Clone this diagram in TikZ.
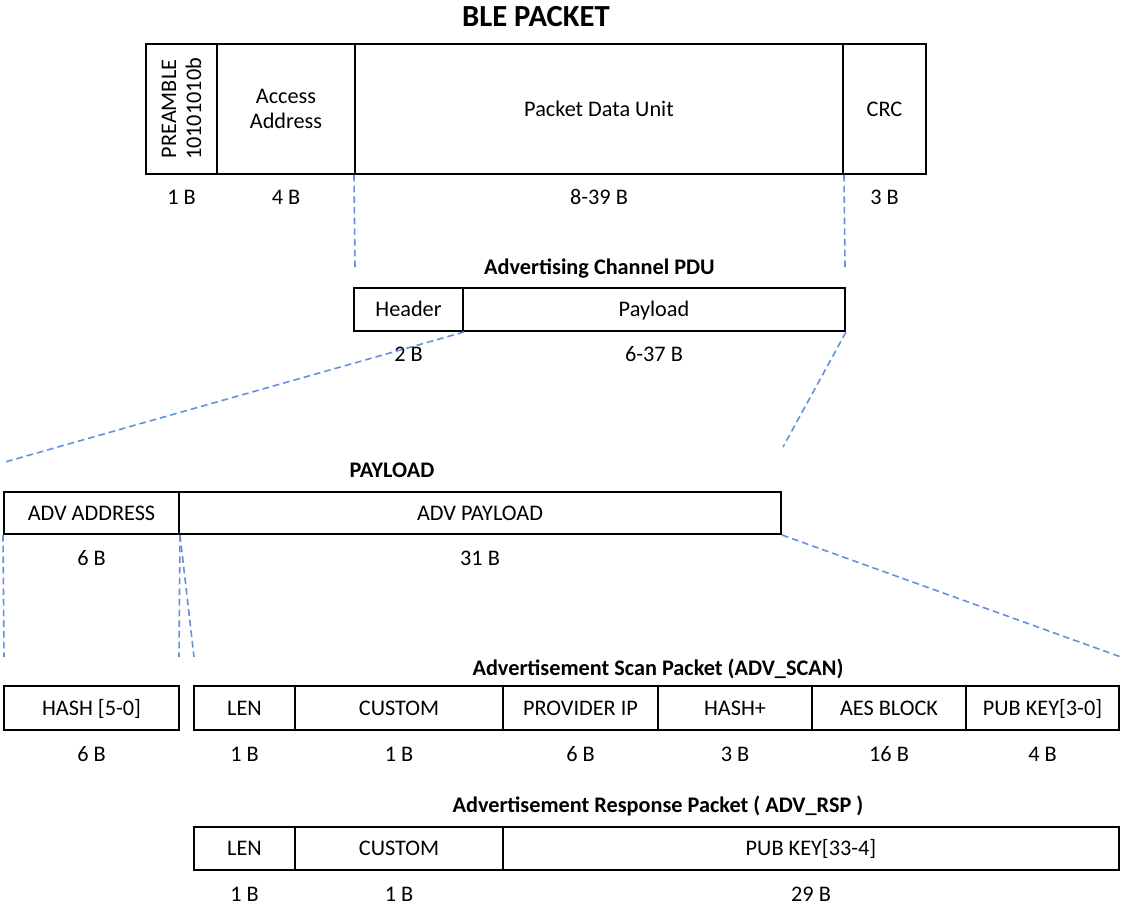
\documentclass[tikz,border=0pt]{standalone}
\usepackage{fontspec}
\setmainfont{Carlito}

\definecolor{zoomblue}{RGB}{100,145,220}
\newcommand\pktfont{\fontsize{16.7}{18.75}\selectfont}

\begin{document}
\begin{tikzpicture}[x=0.75pt, y=-0.75pt,
  every node/.style={font=\pktfont},
  cell/.style={draw, line width=1.5pt, inner sep=0pt, text height=10.8pt, text depth=0pt},
  bytes/.style={anchor=base},
  ttl/.style={anchor=base, font=\pktfont\bfseries},
  zoomline/.style={draw=zoomblue, line width=1.2pt, dash pattern=on 5pt off 3pt}]
 \useasboundingbox[fill=white] (0,0) rectangle (1121,905);

 %% BLE packet
 \node[anchor=base, font=\fontsize{23}{26}\selectfont\bfseries] (ble) at (536,27) {BLE PACKET};
 \node[cell, rotate=90, align=center, text height=29.5pt, minimum width=97.5pt, minimum height=53.25pt] (pre) at (181.5,109) {PREAMBLE\\10101010b};
 \node[cell, align=center, text height=29.5pt, minimum width=103.5pt, minimum height=97.5pt] (acc) at (286,109) {Access\\Address};
 \node[bytes] at ([yshift=-22.5pt]pre.west) {1 B};
 \node[bytes] at ([yshift=-22.5pt]acc.south) {4 B};
 \foreach \nm/\l/\r/\txt/\b in {pdu/355/843/Packet Data Unit/8-39 B, crc/843/926/CRC/3 B}{
   \pgfmathsetmacro\w{(\r-\l)*0.75}
   \node[cell, minimum width=\w pt, minimum height=97.5pt] (\nm) at ({(\l+\r)/2},109) {\txt};
   \node[bytes] at ([yshift=-22.5pt]\nm.south) {\b};
 }

 %% advertising channel PDU
 \node[ttl] (pdutitle) at (599.5,275) {Advertising Channel PDU};
 \foreach \nm/\l/\r/\txt/\b in {hdr/354/463/Header/2 B, pay/463/845/Payload/6-37 B}{
   \pgfmathsetmacro\w{(\r-\l)*0.75}
   \node[cell, minimum width=\w pt, minimum height=32.25pt] (\nm) at ({(\l+\r)/2},309.5) {\txt};
   \node[bytes] at ([yshift=-22.5pt]\nm.south) {\b};
 }

 %% payload
 \node[ttl] (paytitle) at (392,477) {PAYLOAD};
 \foreach \nm/\l/\r/\txt/\b in {adr/4/179/ADV ADDRESS/6 B, apl/179/781/ADV PAYLOAD/31 B}{
   \pgfmathsetmacro\w{(\r-\l)*0.75}
   \node[cell, minimum width=\w pt, minimum height=31.5pt] (\nm) at ({(\l+\r)/2},513) {\txt};
   \node[bytes] at ([yshift=-22.5pt]\nm.south) {\b};
 }

 %% scan packet
 \node[ttl] (scantitle) at (658,675) {Advertisement Scan Packet (ADV\_SCAN)};
 \foreach \nm/\l/\r/\txt/\b in {hash/4/179/{HASH [5-0]}/6 B, slen/194/295/LEN/1 B, scus/295/503/CUSTOM/1 B,
     sip/503/658/PROVIDER IP/6 B, shsh/658/812/HASH+/3 B, saes/812/966/AES BLOCK/16 B, spub/966/1119/{PUB KEY[3-0]}/4 B}{
   \pgfmathsetmacro\w{(\r-\l)*0.75}
   \node[cell, minimum width=\w pt, minimum height=33pt] (\nm) at ({(\l+\r)/2},708) {\txt};
   \node[bytes] at ([yshift=-22.5pt]\nm.south) {\b};
 }

 %% response packet
 \node[ttl] (rsptitle) at (658,812) {Advertisement Response Packet ( ADV\_RSP )};
 \foreach \nm/\l/\r/\txt/\b in {rlen/194/295/LEN/1 B, rcus/295/503/CUSTOM/1 B, rpub/503/1119/{PUB KEY[33-4]}/29 B}{
   \pgfmathsetmacro\w{(\r-\l)*0.75}
   \node[cell, minimum width=\w pt, minimum height=32.25pt] (\nm) at ({(\l+\r)/2},848.5) {\txt};
   \node[bytes] at ([yshift=-22.5pt]\nm.south) {\b};
 }

 %% zoom lines
 \coordinate (z1) at (355,268);
 \coordinate (z2) at (845,268);
 \coordinate (z3) at (5,462);
 \coordinate (z4) at (783,447);
 \coordinate (z5) at (4,657);
 \coordinate (z6) at (179,657);
 \coordinate (z7) at (194,657);
 \coordinate (z8) at (1121,657);
 \path[zoomline] (pdu.south west) -- (z1);
 \path[zoomline] (pdu.south east) -- (z2);
 \path[zoomline] (hdr.south east) -- (z3);
 \path[zoomline] (pay.south east) -- (z4);
 \path[zoomline] (adr.south west) -- (z5);
 \path[zoomline] (adr.south east) -- (z6);
 \path[zoomline] (adr.south east) -- (z7);
 \path[zoomline] (apl.south east) -- (z8);
\end{tikzpicture}
\end{document}
